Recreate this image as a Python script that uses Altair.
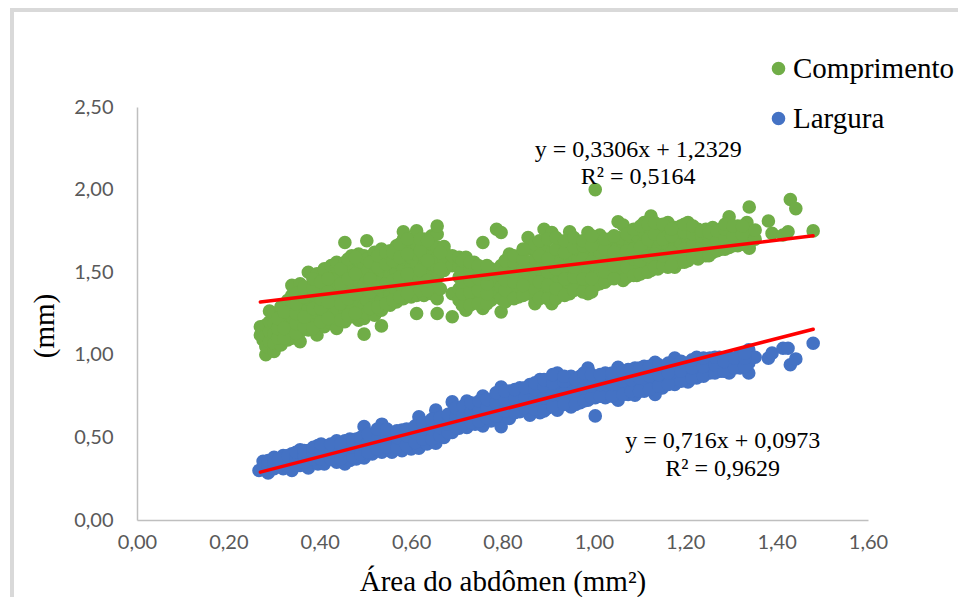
import altair as alt
import pandas as pd

comprimento_x = [0.270, 0.276, 0.282, 0.290, 0.300, 0.315, 0.330, 0.339, 0.357, 0.375, 0.394, 0.410, 0.425, 0.437, 0.455, 0.470, 0.485, 0.497, 0.503, 0.520, 0.535, 0.554, 0.568, 0.583, 0.600, 0.612, 0.628, 0.645, 0.657, 0.672, 0.690, 0.705, 0.720, 0.738, 0.757, 0.775, 0.787, 0.797, 0.815, 0.835, 0.856, 0.871, 0.891, 0.908, 0.925, 0.947, 0.965, 0.987, 1.003, 1.013, 1.035, 1.053, 1.064, 1.080, 1.094, 1.110, 1.125, 1.140, 1.162, 1.177, 1.190, 1.206, 1.228, 1.245, 1.260, 1.278, 1.296, 1.315, 1.335, 1.340, 1.353, 1.382, 1.390, 1.414, 1.425, 1.430, 1.442, 1.480]
comprimento_y = [
    [1.12, 1.17], [1.09, 1.15], [1.00, 1.05, 1.12, 1.18], [1.08, 1.14, 1.20, 1.265], [1.02, 1.07, 1.13, 1.19, 1.25],
    [1.06, 1.12, 1.18, 1.24, 1.29], [1.09, 1.15, 1.21, 1.27, 1.33], [1.10, 1.16, 1.23, 1.30, 1.36, 1.42],
    [1.08, 1.14, 1.20, 1.26, 1.32, 1.38, 1.43], [1.15, 1.22, 1.28, 1.34, 1.40, 1.50], [1.12, 1.19, 1.25, 1.31, 1.37, 1.43, 1.49],
    [1.17, 1.23, 1.29, 1.35, 1.41, 1.47, 1.52], [1.19, 1.25, 1.31, 1.37, 1.43, 1.49, 1.54], [1.16, 1.22, 1.28, 1.34, 1.40, 1.46, 1.53, 1.56],
    [1.20, 1.26, 1.32, 1.38, 1.44, 1.50, 1.56, 1.68], [1.23, 1.29, 1.35, 1.41, 1.47, 1.53, 1.60], [1.21, 1.27, 1.33, 1.39, 1.45, 1.51, 1.57, 1.61],
    [1.125, 1.22, 1.30, 1.36, 1.42, 1.48, 1.54, 1.60], [1.25, 1.33, 1.40, 1.50, 1.58, 1.69], [1.24, 1.31, 1.37, 1.43, 1.49, 1.55, 1.62],
    [1.175, 1.27, 1.33, 1.39, 1.45, 1.51, 1.57, 1.64], [1.30, 1.36, 1.42, 1.48, 1.54, 1.60, 1.63], [1.32, 1.38, 1.44, 1.50, 1.56, 1.62, 1.66],
    [1.34, 1.40, 1.46, 1.52, 1.58, 1.64, 1.70, 1.745], [1.35, 1.41, 1.47, 1.53, 1.59, 1.65, 1.70], [1.25, 1.36, 1.43, 1.49, 1.55, 1.61, 1.67, 1.75],
    [1.36, 1.42, 1.48, 1.54, 1.60, 1.66, 1.70], [1.37, 1.43, 1.49, 1.55, 1.61, 1.67, 1.72], [1.25, 1.34, 1.41, 1.47, 1.53, 1.59, 1.65, 1.73, 1.78],
    [1.51, 1.57, 1.63, 1.655], [1.23, 1.37, 1.54, 1.60], [1.33, 1.40, 1.47, 1.53, 1.59], [1.27, 1.34, 1.41, 1.48, 1.55, 1.59],
    [1.32, 1.38, 1.44, 1.50, 1.56], [1.28, 1.35, 1.42, 1.49, 1.53, 1.68], [1.33, 1.40, 1.46, 1.52], [1.38, 1.45, 1.51, 1.76],
    [1.26, 1.34, 1.41, 1.48, 1.54, 1.74], [1.36, 1.42, 1.48, 1.54, 1.61], [1.35, 1.41, 1.47, 1.53, 1.59], [1.37, 1.43, 1.49, 1.55, 1.64, 1.71],
    [1.31, 1.40, 1.46, 1.52, 1.58, 1.64, 1.67], [1.36, 1.42, 1.48, 1.54, 1.60, 1.66, 1.76], [1.31, 1.38, 1.44, 1.50, 1.56, 1.62, 1.74],
    [1.39, 1.45, 1.51, 1.57, 1.63, 1.68], [1.37, 1.43, 1.49, 1.55, 1.61, 1.67, 1.745], [1.40, 1.46, 1.52, 1.58, 1.64, 1.68],
    [1.37, 1.44, 1.50, 1.56, 1.62, 1.68, 1.74], [1.42, 1.48, 1.54, 1.60, 1.66, 2.00], [1.43, 1.49, 1.55, 1.61, 1.67, 1.725],
    [1.46, 1.52, 1.58, 1.64, 1.70], [1.47, 1.53, 1.59, 1.65, 1.71, 1.805], [1.45, 1.52, 1.58, 1.64, 1.70, 1.785],
    [1.49, 1.55, 1.61, 1.67, 1.72], [1.48, 1.54, 1.60, 1.66, 1.72, 1.76], [1.50, 1.56, 1.62, 1.68, 1.74, 1.80],
    [1.51, 1.57, 1.63, 1.69, 1.75, 1.84], [1.52, 1.58, 1.64, 1.70, 1.76], [1.53, 1.59, 1.65, 1.71, 1.77, 1.80],
    [1.53, 1.59, 1.65, 1.71, 1.77], [1.56, 1.62, 1.68, 1.74, 1.78], [1.57, 1.63, 1.69, 1.75, 1.80], [1.58, 1.64, 1.70, 1.76],
    [1.60, 1.66, 1.72, 1.76], [1.62, 1.67, 1.72, 1.77], [1.64, 1.69, 1.74, 1.76], [1.65, 1.70, 1.75, 1.835],
    [1.66, 1.71, 1.76, 1.78], [1.68, 1.74, 1.80], [1.645, 1.71, 1.76, 1.895], [1.70, 1.755], [1.81], [1.735], [1.725], [1.745], [1.94], [1.885], [1.75],
]

# further points read between the columns above, where the cloud is solid
comprimento_extra_x = [0.308, 0.322, 0.348, 0.366, 0.385, 0.402, 0.418, 0.446, 0.462, 0.478, 0.510, 0.527, 0.545, 0.560, 0.575, 0.592, 0.620, 0.636, 0.664, 0.712, 0.729, 0.747, 0.766, 0.806, 0.825, 0.845, 0.881, 0.899, 0.917, 0.936, 0.956, 0.976, 0.995, 1.024, 1.044, 1.072, 1.087, 1.102, 1.118, 1.133, 1.151, 1.170, 1.198, 1.217, 1.236, 1.252, 1.270, 1.287, 1.305, 1.325]
comprimento_extra_y = [
    [1.10, 1.16, 1.22], [1.10, 1.16, 1.26], [1.13, 1.19, 1.25, 1.31, 1.37], [1.17, 1.23, 1.35, 1.41], [1.16, 1.28, 1.40, 1.46],
    [1.20, 1.28, 1.34, 1.44], [1.22, 1.32, 1.38, 1.46], [1.21, 1.31, 1.43, 1.52], [1.24, 1.34, 1.46, 1.58], [1.25, 1.37, 1.49, 1.59],
    [1.28, 1.38, 1.46, 1.56], [1.29, 1.41, 1.53, 1.60], [1.31, 1.43, 1.55, 1.62], [1.33, 1.45, 1.57, 1.62], [1.35, 1.47, 1.59, 1.67],
    [1.37, 1.49, 1.61, 1.70], [1.39, 1.51, 1.63, 1.70], [1.39, 1.45, 1.57, 1.69], [1.40, 1.52, 1.62],
    [1.30, 1.37, 1.44, 1.51, 1.57], [1.30, 1.38, 1.45, 1.52, 1.56], [1.31, 1.39, 1.46, 1.53, 1.54], [1.31, 1.37, 1.43, 1.49, 1.54],
    [1.32, 1.39, 1.45, 1.51, 1.57], [1.34, 1.44, 1.50, 1.56, 1.60], [1.36, 1.42, 1.52, 1.58, 1.64], [1.34, 1.44, 1.52, 1.60, 1.69],
    [1.34, 1.42, 1.50, 1.58, 1.70], [1.34, 1.40, 1.52, 1.64, 1.71], [1.36, 1.46, 1.54, 1.62, 1.69], [1.39, 1.47, 1.53, 1.65, 1.71],
    [1.38, 1.46, 1.58, 1.66, 1.69], [1.38, 1.46, 1.56, 1.66, 1.72], [1.44, 1.50, 1.56, 1.64, 1.70], [1.46, 1.54, 1.62, 1.72],
    [1.47, 1.53, 1.63, 1.73], [1.48, 1.58, 1.64, 1.76], [1.49, 1.57, 1.65, 1.78], [1.50, 1.60, 1.70, 1.79], [1.53, 1.61, 1.73, 1.80],
    [1.54, 1.60, 1.70, 1.79], [1.54, 1.62, 1.72, 1.76], [1.56, 1.64, 1.74, 1.79], [1.59, 1.67, 1.73, 1.78], [1.60, 1.66, 1.72, 1.75],
    [1.60, 1.68, 1.74], [1.63, 1.69, 1.75], [1.64, 1.70, 1.76, 1.79], [1.66, 1.72, 1.78], [1.67, 1.73, 1.78],
]

largura_x = [0.267, 0.276, 0.287, 0.300, 0.320, 0.339, 0.357, 0.375, 0.396, 0.410, 0.437, 0.455, 0.466, 0.480, 0.497, 0.515, 0.536, 0.558, 0.580, 0.600, 0.617, 0.635, 0.654, 0.672, 0.690, 0.705, 0.722, 0.740, 0.757, 0.775, 0.797, 0.815, 0.838, 0.860, 0.882, 0.900, 0.920, 0.950, 0.970, 0.987, 1.003, 1.025, 1.053, 1.075, 1.090, 1.110, 1.134, 1.150, 1.177, 1.206, 1.225, 1.254, 1.275, 1.296, 1.320, 1.339, 1.353, 1.382, 1.390, 1.414, 1.425, 1.430, 1.442, 1.480]
largura_y = [
    [0.30], [0.31, 0.355], [0.285, 0.33, 0.36], [0.31, 0.35, 0.38], [0.31, 0.35, 0.39], [0.30, 0.35, 0.40],
    [0.33, 0.38, 0.425], [0.315, 0.36, 0.41, 0.42], [0.34, 0.39, 0.45], [0.34, 0.39, 0.45], [0.35, 0.41, 0.48], [0.34, 0.39, 0.44, 0.48],
    [0.36, 0.42, 0.49], [0.37, 0.43, 0.49], [0.375, 0.43, 0.50, 0.565], [0.40, 0.46, 0.52], [0.41, 0.47, 0.53, 0.58], [0.41, 0.47, 0.53],
    [0.42, 0.48, 0.545], [0.43, 0.49, 0.55], [0.435, 0.50, 0.56, 0.625], [0.46, 0.52, 0.58], [0.465, 0.53, 0.59, 0.665], [0.50, 0.56, 0.62],
    [0.53, 0.59, 0.65, 0.715], [0.555, 0.61, 0.67], [0.56, 0.62, 0.68, 0.72], [0.58, 0.63, 0.69], [0.57, 0.64, 0.70, 0.75], [0.60, 0.66, 0.72],
    [0.565, 0.63, 0.69, 0.75, 0.805], [0.615, 0.68, 0.74, 0.78], [0.655, 0.71, 0.77, 0.80], [0.635, 0.70, 0.76, 0.82], [0.65, 0.72, 0.78, 0.85],
    [0.68, 0.74, 0.80, 0.85], [0.665, 0.73, 0.79, 0.85, 0.89], [0.685, 0.75, 0.81, 0.87], [0.71, 0.77, 0.83, 0.87], [0.725, 0.79, 0.85, 0.92],
    [0.63, 0.74, 0.80, 0.86], [0.74, 0.80, 0.86, 0.89], [0.725, 0.79, 0.85, 0.925], [0.76, 0.82, 0.88, 0.91], [0.755, 0.82, 0.88, 0.92],
    [0.78, 0.84, 0.90, 0.93], [0.76, 0.83, 0.89, 0.955], [0.80, 0.86, 0.92], [0.82, 0.88, 0.94, 0.98], [0.835, 0.89, 0.95], [0.86, 0.92, 0.985],
    [0.89, 0.94, 0.98], [0.90, 0.95, 0.985], [0.89, 0.94, 0.98], [0.92, 0.97, 1.00], [0.89, 0.95, 1.03], [0.985], [0.98], [1.01], [1.04], [1.04], [0.94], [0.975], [1.07],
]

# further points read between the columns above, where the band is solid
largura_extra_x = [0.310, 0.330, 0.348, 0.366, 0.386, 0.403, 0.424, 0.446, 0.473, 0.490, 0.506, 0.526, 0.547, 0.569, 0.590, 0.609, 0.626, 0.645, 0.663, 0.681, 0.698, 0.714, 0.731, 0.749, 0.766, 0.786, 0.806, 0.827, 0.849, 0.871, 0.891, 0.910, 0.935, 0.960, 0.978, 0.995, 1.014, 1.040, 1.064, 1.082, 1.100, 1.122, 1.142, 1.163, 1.191, 1.215, 1.240, 1.265, 1.285, 1.308, 1.330]
largura_extra_y = [
    [0.33, 0.37], [0.33, 0.39], [0.33, 0.37, 0.41], [0.35, 0.39, 0.42], [0.37, 0.41, 0.44], [0.37, 0.42, 0.46], [0.37, 0.41, 0.46],
    [0.37, 0.42, 0.46], [0.38, 0.44, 0.48], [0.40, 0.46, 0.50], [0.41, 0.47, 0.52], [0.43, 0.49, 0.55], [0.44, 0.50, 0.55], [0.44, 0.50, 0.54],
    [0.45, 0.51, 0.55], [0.47, 0.53, 0.57], [0.49, 0.55, 0.59], [0.49, 0.55, 0.61], [0.51, 0.56, 0.62], [0.53, 0.58, 0.64], [0.56, 0.62, 0.68],
    [0.58, 0.64, 0.69], [0.59, 0.65, 0.71], [0.60, 0.66, 0.72], [0.62, 0.68, 0.73], [0.63, 0.71, 0.77], [0.66, 0.72, 0.78], [0.65, 0.73, 0.79],
    [0.68, 0.74, 0.80], [0.67, 0.73, 0.79, 0.83], [0.66, 0.74, 0.81, 0.85], [0.69, 0.76, 0.83, 0.88], [0.70, 0.77, 0.84, 0.87], [0.70, 0.78, 0.85],
    [0.72, 0.80, 0.86, 0.89], [0.74, 0.81, 0.88], [0.75, 0.82, 0.88], [0.75, 0.82, 0.89], [0.76, 0.84, 0.90], [0.78, 0.85, 0.91], [0.78, 0.86, 0.92],
    [0.79, 0.87, 0.93], [0.81, 0.88, 0.94], [0.82, 0.89, 0.95], [0.84, 0.90, 0.96], [0.86, 0.92, 0.97], [0.87, 0.93, 0.98], [0.89, 0.94, 0.985],
    [0.90, 0.96], [0.92, 0.98], [0.93, 0.98, 1.01],
]

tendencia_x = [0.27, 1.48]
tendencia_comprimento = [1.32, 1.72]
tendencia_largura = [0.29, 1.155]

rows = []
for name, xs, yss in [("Comprimento", comprimento_x, comprimento_y), ("Comprimento", comprimento_extra_x, comprimento_extra_y),
                      ("Largura", largura_x, largura_y), ("Largura", largura_extra_x, largura_extra_y)]:
    for x, ys in zip(xs, yss):
        for y in ys:
            rows.append({"x": x, "y": y, "serie": name})
points = pd.DataFrame(rows)

anot = pd.DataFrame({
    "x": [1.097, 1.097, 1.282, 1.282],
    "y": [2.24, 2.076, 0.478, 0.309],
    "t": ["y = 0,3306x + 1,2329", "R² = 0,5164", "y = 0,716x + 0,0973", "R² = 0,9629"],
})
FMT = "replace(format(datum.value, '.2f'), '.', ',')"
x_scale = alt.Scale(domain=[0, 1.6], nice=False)
y_scale = alt.Scale(domain=[0, 2.5], nice=False)
AXC = "#BFBFBF"
TXT = "#595959"

pts = alt.Chart(points).mark_circle(size=185, opacity=1).encode(
    x=alt.X("x:Q", scale=x_scale, axis=alt.Axis(
        title="Área do abdômen (mm²)", values=[0, .2, .4, .6, .8, 1.0, 1.2, 1.4, 1.6], labelExpr=FMT, grid=False,
        ticks=False, domainColor=AXC, domainWidth=1.5, labelColor=TXT, labelFont="Lato", labelFontSize=20,
        labelPadding=22, labelBaseline="middle", labelFlush=False, labelOverlap=False,
        titleFont="Liberation Serif", titleFontSize=29, titleFontWeight="normal", titleColor="black", titleX=365.5, titleY=70,
        titleBaseline="alphabetic")),
    y=alt.Y("y:Q", scale=y_scale, axis=alt.Axis(
        title="(mm)", values=[0, .5, 1, 1.5, 2, 2.5], labelExpr=FMT, grid=False, ticks=False, domainColor=AXC, domainWidth=1.5,
        labelColor=TXT, labelFont="Lato", labelFontSize=20, labelPadding=24,
        titleFont="Liberation Serif", titleFontSize=29, titleFontWeight="normal", titleColor="black", titleX=-84, titleY=218.5,
        titleBaseline="alphabetic")),
    color=alt.Color("serie:N", scale=alt.Scale(domain=["Comprimento", "Largura"], range=["#70AD47", "#4472C4"]),
                    legend=alt.Legend(title=None, orient="none", legendX=627, legendY=-53, symbolType="circle", symbolSize=185,
                                      labelFont="Liberation Serif", labelFontSize=29, labelColor="black", labelOffset=0,
                                      rowPadding=20, symbolOpacity=1, labelLimit=300)),
)

t1 = alt.Chart(pd.DataFrame({"x": tendencia_x, "y": tendencia_comprimento})).mark_line(color="#FF0000", strokeWidth=3.5, strokeCap="round").encode(x="x:Q", y="y:Q")
t2 = alt.Chart(pd.DataFrame({"x": tendencia_x, "y": tendencia_largura})).mark_line(color="#FF0000", strokeWidth=3.5, strokeCap="round").encode(x="x:Q", y="y:Q")
txt = alt.Chart(anot).mark_text(font="Liberation Serif", fontSize=24, color="black", baseline="middle", align="center").encode(x="x:Q", y="y:Q", text="t:N")

frame_v = alt.Chart(pd.DataFrame({"a": [0]})).mark_rule(color="#D9D9D9", strokeWidth=4).encode(x=alt.value(-125), y=alt.value(-99), y2=alt.value(498))
frame_h = alt.Chart(pd.DataFrame({"a": [0]})).mark_rule(color="#D9D9D9", strokeWidth=4).encode(y=alt.value(-97), x=alt.value(-127), x2=alt.value(829))

chart = alt.layer(frame_v, frame_h, pts, t1, t2, txt).properties(
    width=731, height=413,
    autosize=alt.AutoSizeParams(type="none"),
    padding={"left": 129, "top": 99, "right": 90, "bottom": 77},
    background="white",
).configure_view(stroke=None)

chart.save("out.html", embed_options={"renderer": "svg", "actions": False})
